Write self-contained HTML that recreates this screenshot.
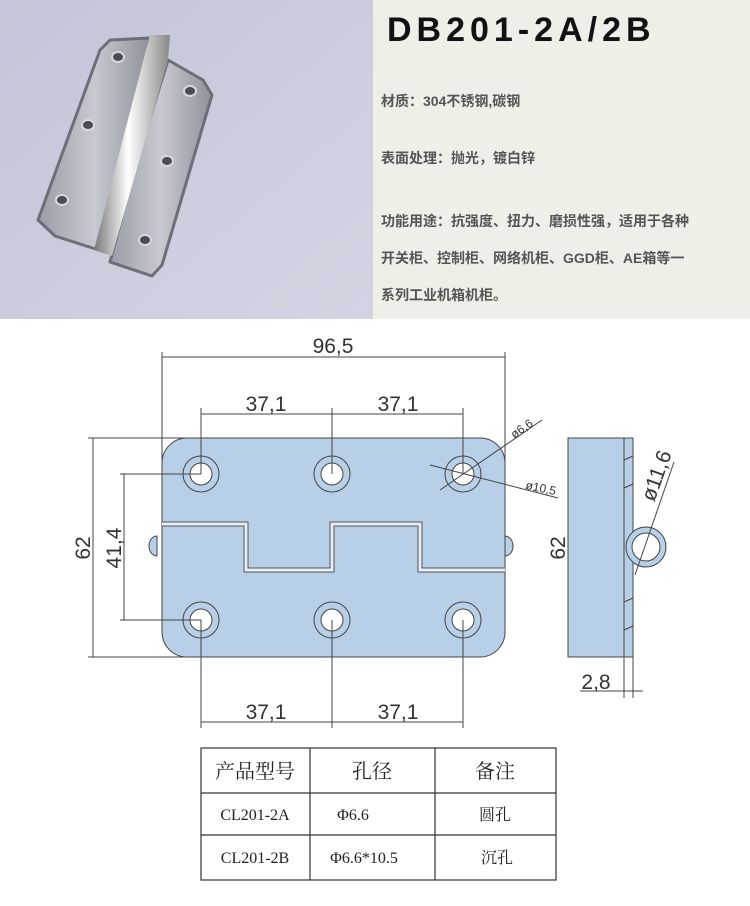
<!DOCTYPE html>
<html><head><meta charset="utf-8"><style>
html,body{margin:0;padding:0;background:#fff;width:750px;height:906px;overflow:hidden}
svg{display:block}
.t{font-family:"Liberation Sans","Noto Sans CJK SC",sans-serif}
.s{font-family:"Liberation Serif","Noto Serif CJK SC",serif}
</style></head><body>
<svg width="750" height="906" viewBox="0 0 750 906" xmlns="http://www.w3.org/2000/svg">
<defs>
<linearGradient id="bg" x1="0" y1="0" x2="1" y2="1"><stop offset="0" stop-color="#c3c5d8"/><stop offset="1" stop-color="#d3d4e2"/></linearGradient>
<linearGradient id="met" x1="0" y1="0" x2="1" y2="0"><stop offset="0" stop-color="#9a9ca6"/><stop offset="0.5" stop-color="#c8c9d0"/><stop offset="1" stop-color="#8f919b"/></linearGradient>
<linearGradient id="pin" x1="0" y1="0" x2="1" y2="0"><stop offset="0" stop-color="#777"/><stop offset="0.45" stop-color="#fff"/><stop offset="1" stop-color="#888"/></linearGradient>
</defs>
<rect x="0" y="0" width="373" height="319" fill="url(#bg)"/>
<g stroke-linejoin="round">
<path d="M110,40 L150,38 L140,90 L105,252 L55,236 L38,220 L100,50 Z" fill="url(#met)" stroke="#6d6f78" stroke-width="3"/>
<path d="M168,60 L203,80 L212,95 L162,265 L152,276 L110,262 L140,150 Z" fill="url(#met)" stroke="#6d6f78" stroke-width="3"/>
<path d="M150,35 L170,35 L168,60 L112,256 L94,250 Z" fill="url(#pin)"/>
</g>
<g fill="#4a4c55" stroke="#d8d9e0" stroke-width="2">
<ellipse cx="118" cy="57" rx="6" ry="5"/><ellipse cx="190" cy="91" rx="6" ry="5"/><ellipse cx="88" cy="125" rx="6" ry="5"/><ellipse cx="167" cy="161" rx="6" ry="5"/><ellipse cx="62" cy="200" rx="6" ry="5"/><ellipse cx="145" cy="240" rx="6" ry="5"/></g>
<rect x="373" y="0" width="377" height="319" fill="#efefe8"/>
<text x="387" y="41" class="t" font-size="34" font-weight="bold" letter-spacing="5" fill="#111">DB201-2A/2B</text>
<g class="t" font-size="14" font-weight="bold" fill="#555">
<text x="381" y="106">材质：304不锈钢,碳钢</text>
<text x="381" y="163">表面处理：抛光，镀白锌</text>
<text x="381" y="226">功能用途：抗强度、扭力、磨损性强，适用于各种</text>
<text x="381" y="263">开关柜、控制柜、网络机柜、GGD柜、AE箱等一</text>
<text x="381" y="300">系列工业机箱机柜。</text>
</g>
<g stroke="#444" stroke-width="1" fill="none">
<path d="M157,536 a8,10 0 0 0 0,20 Z M505,536 a8,10 0 0 1 0,20 Z" fill="#b8cfe8"/>
<path d="M187,438 H480 A25,25 0 0 1 505,463 V632 A25,25 0 0 1 480,657 H187 A25,25 0 0 1 162,632 V463 A25,25 0 0 1 187,438 Z" fill="#b8cfe8"/>
<polyline points="162,524 246,524 246,570 332,570 332,524 420,524 420,570 505,570" stroke="#555" stroke-width="5"/>
<polyline points="162,524 246,524 246,570 332,570 332,524 420,524 420,570 505,570" stroke="#e6eef8" stroke-width="3"/>
<g fill="#fff">
<circle cx="201" cy="474" r="18" fill="none"/><circle cx="201" cy="474" r="11"/>
<circle cx="332" cy="474" r="18" fill="none"/><circle cx="332" cy="474" r="11"/>
<circle cx="463" cy="474" r="18" fill="none"/><circle cx="463" cy="474" r="11"/>
<circle cx="201" cy="620" r="18" fill="none"/><circle cx="201" cy="620" r="11"/>
<circle cx="332" cy="620" r="18" fill="none"/><circle cx="332" cy="620" r="11"/>
<circle cx="463" cy="620" r="18" fill="none"/><circle cx="463" cy="620" r="11"/>
</g>
<path d="M162,352 V520 M505,352 V470 M162,357 H505"/>
<path d="M201,408 V474 M332,408 V474 M463,408 V474 M201,414 H463"/>
<path d="M88,438 H225 M88,657 H190 M93,438 V657"/>
<path d="M120,474 H201 M120,620 H201 M124,474 V620"/>
<path d="M201,620 V728 M332,620 V728 M463,620 V728 M201,722 H463"/>
<path d="M440,490 L542,420 M430,465 L558,498"/>
</g>
<g class="t" fill="#333" font-size="21">
<text x="333" y="353" text-anchor="middle">96,5</text>
<text x="266" y="411" text-anchor="middle">37,1</text>
<text x="398" y="411" text-anchor="middle">37,1</text>
<text x="266" y="719" text-anchor="middle">37,1</text>
<text x="398" y="719" text-anchor="middle">37,1</text>
<text transform="translate(90,548) rotate(-90)" text-anchor="middle">62</text>
<text transform="translate(121,548) rotate(-90)" text-anchor="middle">41,4</text>
<text transform="translate(565,548) rotate(-90)" text-anchor="middle">62</text>
<text x="596" y="689" text-anchor="middle">2,8</text>
<text transform="translate(663,478) rotate(-70)" text-anchor="middle">ø11,6</text>
<text transform="translate(524,432) rotate(-35)" text-anchor="middle" font-size="12">ø6,6</text>
<text transform="translate(540,492) rotate(12)" text-anchor="middle" font-size="12">ø10,5</text>
</g>
<g stroke="#444" stroke-width="1" fill="none">
<rect x="568" y="438" width="65" height="219" fill="#b8cfe8"/>
<path d="M624,438 V657 M624,460 L633,456 M624,488 L633,484 M624,602 L633,598 M624,630 L633,626"/>
<circle cx="646" cy="547" r="20" fill="#b8cfe8"/><circle cx="646" cy="547" r="14" fill="#fff"/>
<path d="M635,575 L674,462"/>
<path d="M624,657 V698 M633,657 V698 M580,691 H643"/>
</g>
<g stroke="#333" stroke-width="1.2" fill="none">
<rect x="201" y="748" width="355" height="132"/>
<path d="M201,793 H556 M201,835 H556 M310,748 V880 M435,748 V880"/>
</g>
<g class="s" fill="#222" text-anchor="middle">
<text x="255" y="778" font-size="20">产品型号</text>
<text x="372" y="778" font-size="20">孔径</text>
<text x="495" y="778" font-size="20">备注</text>
<text x="255" y="820" font-size="16">CL201-2A</text>
<text x="353" y="820" font-size="16">Φ6.6</text>
<text x="495" y="820" font-size="16">圆孔</text>
<text x="255" y="863" font-size="16">CL201-2B</text>
<text x="364" y="863" font-size="16">Φ6.6*10.5</text>
<text x="497" y="863" font-size="16">沉孔</text>
</g>
</svg>
</body></html>
